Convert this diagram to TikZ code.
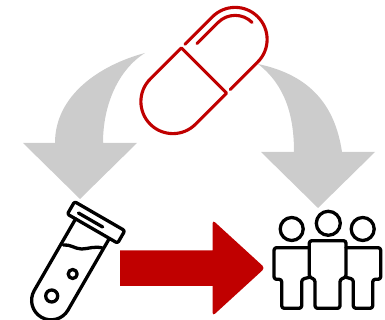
\documentclass[tikz,border=0pt]{standalone}
\definecolor{pillred}{HTML}{C00000}
\definecolor{flowgray}{HTML}{CCCCCC}
\tikzset{
    pillline/.style={draw=pillred, line width=3.1pt, line cap=round, line join=round},
    iconline/.style={draw=black, line width=3.3pt, line cap=round, line join=round},
    flowarrow/.style={fill=flowgray}
}
\begin{document}
\begin{tikzpicture}[x=1pt, y=1pt]

    \useasboundingbox (0,0) rectangle (385,320);

    % Gray arrow to the tube
    \fill[flowarrow] (145,267) .. controls (100,255) and (55,225) .. (55,177)
        -- (23,177) -- (80,121) -- (137,177) -- (103,177)
        .. controls (103,215) and (118,250) .. (145,267) -- cycle;

    % Gray arrow to the people
    \fill[flowarrow] (258,256) .. controls (310,245) and (335,215) .. (342,168)
        -- (375,168) -- (318,112) -- (261,168) -- (294,168)
        .. controls (294,205) and (285,235) .. (258,256) -- cycle;

    % Red arrow
    \fill[pillred] (120,69.5) -- (212.5,69.5)
        [rounded corners=3.5pt] -- (212.5,100) -- (265,52) -- (212.5,4)
        [sharp corners] -- (212.5,34) -- (120,34) -- cycle;

    % Pill
    \begin{scope}[shift={(204,249.5)}, rotate=45]
        \draw[pillline] (0,32) -- (-44,32) arc[start angle=90, end angle=270, radius=32]
            -- (0,-32) -- cycle;
        \draw[pillline] (5,32) -- (44,32) arc[start angle=90, end angle=-90, radius=32]
            -- (5,-32);
        \draw[pillline] (14,24) -- (44,24) arc[start angle=90, end angle=0, radius=24];
    \end{scope}

    % Test tube
    \begin{scope}[shift={(96.1,97.6)}, rotate=-30]
        \draw[iconline, rounded corners=2pt] (-29,-7.2) rectangle (29,7.2);
        \draw[iconline] (-20,-0.7) -- (8,-0.7);
        \draw[iconline] (-19.5,-7.2) -- (-19.5,-90) arc[start angle=180, end angle=360, radius=19.5]
            -- (19.5,-7.2);
    \end{scope}

    % Liquid and bubbles
    \draw[iconline] (63.3,75) .. controls (70,76) and (75,71) .. (81.7,71)
        .. controls (88,71) and (95,74.5) .. (103.3,71.7);
    \draw[iconline] (72.7,46) circle[radius=4.5];
    \draw[iconline] (51.7,24) circle[radius=6];

    % Heads
    \draw[iconline] (291.7,91) circle[radius=11.5];
    \draw[iconline] (328.3,96.7) circle[radius=12];
    \draw[iconline] (362.7,91) circle[radius=11.5];

    % Bodies
    \draw[iconline, rounded corners=2.5pt] (309.3,72.3) -- (274,72.3) -- (274,40.7)
        -- (281.7,40.7) -- (281.7,11.7) -- (301.7,11.7) -- (301.7,40.7) -- (309.3,42.7);
    \draw[iconline, rounded corners=2.5pt] (346,72.3) -- (380.7,72.3) -- (380.7,40.7)
        -- (372.7,40.7) -- (372.7,11.7) -- (353.3,11.7) -- (353.3,40.7) -- (346,42.7);
    \draw[iconline, rounded corners=2.5pt] (309.3,42.7) -- (309.3,79.3) -- (346,79.3) -- (346,42.7)
        -- (340,40.7) -- (340,11.7) -- (315,11.7) -- (315,40.7) -- cycle;

\end{tikzpicture}
\end{document}
